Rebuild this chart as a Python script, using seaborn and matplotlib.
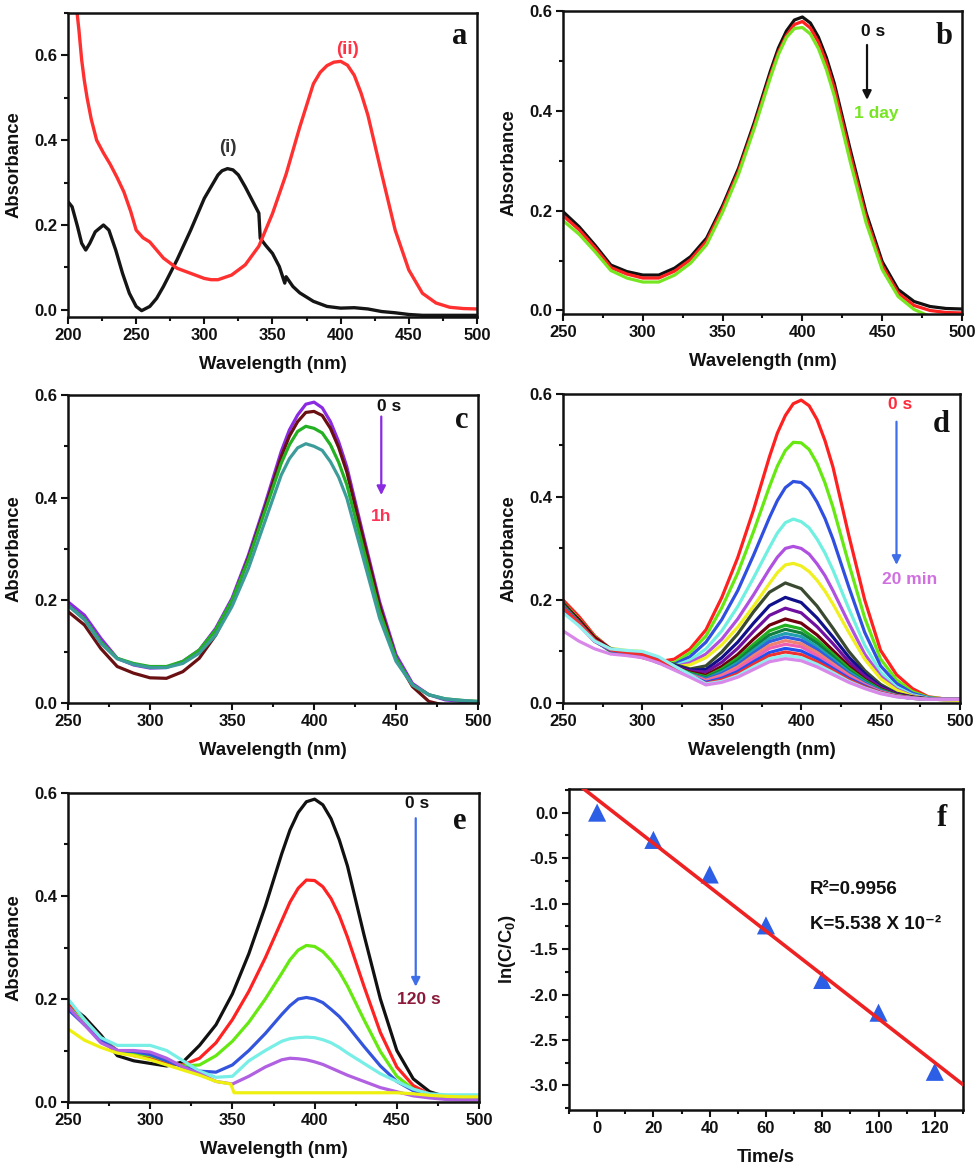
"""Six-panel UV-vis figure: spectra (a-e) and first-order kinetics fit (f)."""

import matplotlib

matplotlib.use("Agg")
import matplotlib.pyplot as plt
import numpy as np
import pandas as pd
import seaborn as sns
from matplotlib.ticker import FormatStrFormatter, MultipleLocator

# ---------------- panel a ----------------
a_wl_i = [200, 203, 207, 210, 213, 216, 220, 226, 230, 235, 240, 245, 250, 254, 260, 265,
          270, 280, 290, 300, 310, 313, 317, 321, 325, 330, 335, 340, 341, 345, 350, 355,
          359, 360, 365, 370, 380, 390, 400, 410, 420, 430, 440, 450, 460, 470, 480, 490, 500]
a_abs_i = [0.255, 0.243, 0.196, 0.157, 0.141, 0.157, 0.184, 0.200, 0.188, 0.141, 0.086, 0.039,
           0.008, -0.002, 0.008, 0.027, 0.055, 0.118, 0.188, 0.263, 0.318, 0.328, 0.333, 0.330,
           0.318, 0.290, 0.259, 0.228, 0.169, 0.152, 0.133, 0.102, 0.063, 0.078, 0.055, 0.040,
           0.020, 0.008, 0.004, 0.005, 0.002, -0.004, -0.007, -0.011, -0.013, -0.013, -0.013,
           -0.013, -0.013]
a_wl_ii = [206, 208, 210, 212, 214, 217, 221, 226, 231, 236, 241, 246, 250, 255, 260, 265,
           270, 280, 290, 300, 305, 310, 320, 330, 340, 350, 360, 370, 380, 385, 390, 395,
           400, 405, 410, 415, 420, 430, 440, 450, 460, 470, 480, 490, 500]
a_abs_ii = [0.72, 0.66, 0.59, 0.54, 0.50, 0.45, 0.40, 0.37, 0.343, 0.312, 0.278, 0.232, 0.188,
            0.170, 0.160, 0.141, 0.122, 0.098, 0.086, 0.074, 0.071, 0.071, 0.082, 0.106, 0.150,
            0.227, 0.320, 0.431, 0.533, 0.560, 0.576, 0.584, 0.586, 0.577, 0.553, 0.511, 0.459,
            0.322, 0.188, 0.094, 0.039, 0.016, 0.006, 0.003, 0.002]
a_colors = ["#151515", "#ff3030"]

# wavelength grids for panels b-e (finer around the 400 nm band)
spec_wl_fine = [250, 260, 270, 280, 290, 300, 310, 320, 330, 340, 350, 360, 370, 380, 385,
                390, 395, 400, 405, 410, 415, 420, 430, 440, 450, 460, 470, 480, 490, 500]
spec_wl = [250, 260, 270, 280, 290, 300, 310, 320, 330, 340, 350, 360, 370,
           380, 390, 400, 410, 420, 430, 440, 450, 460, 470, 480, 490, 500]

# ---------------- panel b (stability, 0 s -> 1 day) ----------------
b_abs = [
    [0.198, 0.168, 0.131, 0.091, 0.078, 0.071, 0.071, 0.085, 0.108, 0.145, 0.210, 0.285, 0.378,
     0.480, 0.526, 0.560, 0.582, 0.588, 0.576, 0.548, 0.507, 0.455,
     0.322, 0.195, 0.098, 0.042, 0.018, 0.008, 0.004, 0.003],
    [0.190, 0.162, 0.126, 0.086, 0.073, 0.065, 0.065, 0.079, 0.102, 0.139, 0.204, 0.279, 0.371,
     0.472, 0.518, 0.551, 0.573, 0.579, 0.566, 0.538, 0.497, 0.445,
     0.312, 0.186, 0.090, 0.035, 0.010, 0.000, -0.004, -0.005],
    [0.180, 0.153, 0.118, 0.080, 0.065, 0.057, 0.057, 0.071, 0.095, 0.132, 0.197, 0.273, 0.366,
     0.467, 0.513, 0.547, 0.565, 0.567, 0.554, 0.525, 0.483, 0.430,
     0.298, 0.175, 0.082, 0.028, 0.002, -0.012, -0.015, -0.015],
]
b_colors = ["#111111", "#ff2020", "#77e622"]

# ---------------- panel c (0 s -> 1 h) ----------------
c_abs = [
    [0.197, 0.171, 0.126, 0.087, 0.074, 0.068, 0.069, 0.081, 0.103, 0.145, 0.204, 0.288, 0.386,
     0.490, 0.532, 0.561, 0.582, 0.586, 0.575, 0.548, 0.509, 0.460,
     0.327, 0.197, 0.094, 0.038, 0.016, 0.006, 0.003, 0.002],
    [0.178, 0.152, 0.106, 0.071, 0.058, 0.049, 0.048, 0.061, 0.087, 0.132, 0.197, 0.282, 0.379,
     0.480, 0.520, 0.548, 0.566, 0.568, 0.560, 0.535, 0.498, 0.450,
     0.320, 0.190, 0.087, 0.032, 0.003, -0.005, -0.005, -0.005],
    [0.190, 0.164, 0.119, 0.087, 0.077, 0.071, 0.071, 0.081, 0.103, 0.142, 0.200, 0.279, 0.373,
     0.467, 0.503, 0.529, 0.539, 0.535, 0.526, 0.503, 0.469, 0.425,
     0.301, 0.178, 0.087, 0.035, 0.016, 0.008, 0.005, 0.003],
    [0.190, 0.162, 0.116, 0.086, 0.075, 0.069, 0.069, 0.077, 0.097, 0.132, 0.188, 0.262, 0.353,
     0.444, 0.476, 0.497, 0.505, 0.500, 0.492, 0.470, 0.440, 0.399,
     0.282, 0.165, 0.081, 0.035, 0.016, 0.008, 0.005, 0.003],
]
c_colors = ["#8a2be2", "#6a0f12", "#23b023", "#3c9c9a"]

# ---------------- panel d (0 s -> 20 min) ----------------
# first six scans on the fine grid
d_abs_top = [
    [0.200, 0.168, 0.130, 0.105, 0.095, 0.088, 0.080, 0.085, 0.105, 0.142, 0.205, 0.282, 0.375,
     0.478, 0.524, 0.558, 0.581, 0.588, 0.577, 0.550, 0.509, 0.458,
     0.325, 0.200, 0.102, 0.055, 0.028, 0.012, 0.008, 0.007],
    [0.195, 0.163, 0.128, 0.104, 0.096, 0.090, 0.079, 0.078, 0.098, 0.130, 0.185, 0.252, 0.333,
     0.420, 0.460, 0.490, 0.506, 0.505, 0.492, 0.465, 0.427, 0.380,
     0.270, 0.165, 0.085, 0.045, 0.022, 0.011, 0.008, 0.007],
    [0.193, 0.161, 0.126, 0.104, 0.097, 0.091, 0.078, 0.075, 0.090, 0.118, 0.162, 0.218, 0.287,
     0.360, 0.393, 0.418, 0.430, 0.428, 0.415, 0.390, 0.358, 0.318,
     0.225, 0.137, 0.072, 0.038, 0.019, 0.010, 0.007, 0.006],
    [0.190, 0.160, 0.125, 0.106, 0.100, 0.095, 0.082, 0.072, 0.083, 0.105, 0.140, 0.187, 0.243,
     0.302, 0.330, 0.350, 0.357, 0.352, 0.340, 0.318, 0.291, 0.258,
     0.183, 0.112, 0.060, 0.031, 0.016, 0.009, 0.006, 0.006],
    [0.190, 0.158, 0.124, 0.105, 0.100, 0.096, 0.083, 0.070, 0.078, 0.095, 0.124, 0.163, 0.210,
     0.260, 0.283, 0.300, 0.304, 0.300, 0.289, 0.270, 0.247, 0.218,
     0.155, 0.095, 0.052, 0.027, 0.014, 0.008, 0.006, 0.005],
    [0.185, 0.155, 0.123, 0.106, 0.102, 0.100, 0.088, 0.070, 0.074, 0.088, 0.113, 0.147, 0.188,
     0.232, 0.253, 0.268, 0.271, 0.266, 0.255, 0.238, 0.217, 0.192,
     0.137, 0.085, 0.047, 0.025, 0.013, 0.008, 0.006, 0.005],
]
# later scans on the 10 nm grid
d_abs_low = [
    [0.195, 0.160, 0.125, 0.105, 0.100, 0.095, 0.085, 0.075, 0.066, 0.072, 0.099, 0.134, 0.177,
     0.215, 0.233, 0.222, 0.188, 0.145, 0.100, 0.063, 0.036, 0.019, 0.012, 0.008, 0.007, 0.007],
    [0.190, 0.158, 0.123, 0.104, 0.098, 0.094, 0.084, 0.073, 0.064, 0.065, 0.088, 0.118, 0.155,
     0.189, 0.205, 0.195, 0.165, 0.128, 0.089, 0.057, 0.032, 0.018, 0.011, 0.008, 0.007, 0.007],
    [0.188, 0.156, 0.122, 0.103, 0.098, 0.093, 0.083, 0.071, 0.062, 0.060, 0.079, 0.106, 0.139,
     0.170, 0.184, 0.175, 0.148, 0.115, 0.080, 0.052, 0.030, 0.017, 0.011, 0.007, 0.007, 0.007],
    [0.192, 0.162, 0.127, 0.105, 0.097, 0.092, 0.082, 0.070, 0.060, 0.054, 0.071, 0.094, 0.124,
     0.151, 0.163, 0.155, 0.132, 0.102, 0.072, 0.046, 0.027, 0.016, 0.011, 0.007, 0.007, 0.007],
    [0.190, 0.157, 0.121, 0.100, 0.094, 0.090, 0.081, 0.069, 0.058, 0.051, 0.066, 0.087, 0.114,
     0.140, 0.151, 0.144, 0.122, 0.095, 0.067, 0.044, 0.026, 0.015, 0.010, 0.007, 0.007, 0.007],
    [0.186, 0.155, 0.121, 0.102, 0.097, 0.093, 0.083, 0.069, 0.057, 0.049, 0.063, 0.082, 0.108,
     0.132, 0.143, 0.136, 0.116, 0.090, 0.063, 0.042, 0.025, 0.015, 0.010, 0.007, 0.007, 0.007],
    [0.185, 0.154, 0.120, 0.103, 0.099, 0.095, 0.084, 0.068, 0.056, 0.047, 0.060, 0.078, 0.102,
     0.125, 0.135, 0.129, 0.109, 0.085, 0.060, 0.040, 0.024, 0.014, 0.010, 0.007, 0.007, 0.007],
    [0.188, 0.156, 0.121, 0.102, 0.097, 0.093, 0.082, 0.067, 0.055, 0.046, 0.057, 0.074, 0.097,
     0.119, 0.128, 0.122, 0.104, 0.081, 0.057, 0.038, 0.023, 0.014, 0.010, 0.007, 0.007, 0.007],
    [0.183, 0.153, 0.120, 0.103, 0.099, 0.096, 0.085, 0.068, 0.055, 0.044, 0.054, 0.070, 0.092,
     0.112, 0.121, 0.115, 0.098, 0.076, 0.054, 0.036, 0.022, 0.014, 0.010, 0.007, 0.007, 0.007],
    [0.180, 0.151, 0.119, 0.103, 0.100, 0.097, 0.086, 0.069, 0.054, 0.042, 0.051, 0.066, 0.086,
     0.106, 0.114, 0.109, 0.092, 0.072, 0.051, 0.035, 0.021, 0.013, 0.009, 0.007, 0.007, 0.007],
    [0.182, 0.152, 0.120, 0.102, 0.098, 0.095, 0.084, 0.067, 0.053, 0.040, 0.048, 0.061, 0.080,
     0.098, 0.106, 0.101, 0.086, 0.067, 0.048, 0.033, 0.020, 0.013, 0.009, 0.007, 0.007, 0.007],
    [0.185, 0.155, 0.122, 0.103, 0.098, 0.094, 0.083, 0.066, 0.052, 0.038, 0.045, 0.057, 0.075,
     0.092, 0.099, 0.094, 0.080, 0.063, 0.045, 0.031, 0.020, 0.013, 0.009, 0.007, 0.007, 0.007],
    [0.175, 0.150, 0.120, 0.105, 0.102, 0.100, 0.090, 0.072, 0.055, 0.037, 0.042, 0.053, 0.070,
     0.086, 0.092, 0.088, 0.075, 0.059, 0.042, 0.029, 0.019, 0.012, 0.009, 0.007, 0.007, 0.007],
    [0.140, 0.120, 0.105, 0.095, 0.092, 0.088, 0.078, 0.064, 0.050, 0.035, 0.040, 0.050, 0.065,
     0.080, 0.086, 0.082, 0.070, 0.055, 0.040, 0.028, 0.018, 0.012, 0.009, 0.007, 0.007, 0.007],
]
d_colors = ["#ff2020", "#66e811", "#2f4fe0", "#6ff0e0", "#b050e0", "#f0f020", "#3a4a30",
            "#10108a", "#7010a0", "#700010", "#20b020", "#108040", "#20a0b0", "#3060e0",
            "#f08070", "#f060b0", "#2050f0", "#f03030", "#90f0f0", "#d888e8"]

# ---------------- panel e (0 s -> 120 s) ----------------
e_abs = [
    [0.190, 0.165, 0.130, 0.090, 0.080, 0.075, 0.070, 0.078, 0.110, 0.150, 0.210, 0.288, 0.380,
     0.482, 0.528, 0.562, 0.583, 0.588, 0.577, 0.550, 0.509, 0.458,
     0.325, 0.200, 0.100, 0.045, 0.020, 0.010, 0.008, 0.008],
    [0.190, 0.160, 0.125, 0.100, 0.090, 0.085, 0.075, 0.072, 0.085, 0.115, 0.160, 0.215, 0.280,
     0.352, 0.388, 0.415, 0.431, 0.430, 0.418, 0.395, 0.362, 0.320,
     0.225, 0.135, 0.068, 0.032, 0.015, 0.010, 0.008, 0.007],
    [0.185, 0.155, 0.120, 0.100, 0.095, 0.090, 0.080, 0.070, 0.072, 0.090, 0.118, 0.155, 0.200,
     0.250, 0.276, 0.295, 0.304, 0.302, 0.292, 0.275, 0.253, 0.225,
     0.160, 0.098, 0.050, 0.025, 0.013, 0.010, 0.008, 0.007],
    [0.180, 0.150, 0.120, 0.100, 0.098, 0.092, 0.080, 0.068, 0.060, 0.058, 0.072, 0.100, 0.133,
     0.170, 0.187, 0.200, 0.203, 0.200, 0.193, 0.180, 0.166, 0.148,
     0.108, 0.070, 0.040, 0.022, 0.013, 0.010, 0.008, 0.007],
    [0.200, 0.160, 0.125, 0.110, 0.110, 0.110, 0.100, 0.080, 0.060, 0.048, 0.050, 0.080, 0.100,
     0.118, 0.123, 0.125, 0.126, 0.125, 0.121, 0.115, 0.106, 0.095,
     0.075, 0.055, 0.040, 0.025, 0.016, 0.014, 0.014, 0.014],
    [0.185, 0.150, 0.115, 0.100, 0.100, 0.097, 0.085, 0.068, 0.055, 0.040, 0.035, 0.050, 0.068,
     0.082, 0.085, 0.084, 0.082, 0.078, 0.073, 0.066, 0.059, 0.052,
     0.040, 0.028, 0.020, 0.012, 0.008, 0.005, 0.004, 0.004],
]
e_wl_120s = [250, 260, 270, 280, 290, 300, 310, 320, 330, 340, 349, 351, 360, 400, 450, 460,
             470, 480, 490, 500]
e_abs_120s = [0.142, 0.120, 0.106, 0.095, 0.090, 0.082, 0.072, 0.062, 0.052, 0.040, 0.035,
              0.018, 0.018, 0.018, 0.018, 0.016, 0.013, 0.011, 0.010, 0.010]
e_colors = ["#111111", "#ff2222", "#66e811", "#3355dd", "#77eee6", "#b060e0", "#eef010"]

# ---------------- panel f (kinetics) ----------------
f_time = [0, 20, 40, 60, 80, 100, 120]
f_lnc = [0.0, -0.30, -0.68, -1.24, -1.84, -2.20, -2.85]
f_fit_range = [-5.3, 130]


def spectra_frame(curves):
    """Stack (wavelength, absorbance) pairs into one long frame for seaborn."""
    parts = []
    for idx, (wl, vals) in enumerate(curves):
        parts.append(pd.DataFrame({"wl": wl, "abs": vals, "curve": f"s{idx:02d}"}))
    return pd.concat(parts, ignore_index=True)


def draw_spectra(ax, curves, colors, lw=2.3):
    frame = spectra_frame(curves)
    palette = {f"s{i:02d}": c for i, c in enumerate(colors)}
    sns.lineplot(data=frame, x="wl", y="abs", hue="curve", palette=palette,
                 estimator=None, sort=False, lw=lw, legend=False, ax=ax)


def style_axis(ax, xlim, ylim, xmajor, xminor, ymajor, yminor, yfmt, xlabel, ylabel):
    ax.set_xlim(xlim)
    ax.set_ylim(ylim)
    ax.xaxis.set_major_locator(MultipleLocator(xmajor))
    ax.xaxis.set_minor_locator(MultipleLocator(xminor))
    ax.yaxis.set_major_locator(MultipleLocator(ymajor))
    ax.yaxis.set_minor_locator(MultipleLocator(yminor))
    ax.yaxis.set_major_formatter(FormatStrFormatter(yfmt))
    for spine in ax.spines.values():
        spine.set_visible(True)
        spine.set_linewidth(1.8)
        spine.set_color("#111111")
    ax.tick_params(which="both", direction="out", top=False, right=False, width=1.5,
                   color="#111111")
    ax.tick_params(which="major", length=5, pad=3)
    ax.tick_params(which="minor", length=3)
    ax.set_xlabel(xlabel, labelpad=9)
    ax.set_ylabel(ylabel, labelpad=8)


def panel_letter(ax, x, y, letter):
    ax.text(x, y, letter, ha="center", va="center", fontsize=22, fontweight="bold",
            family=["Liberation Serif", "DejaVu Serif"], color="#111111")


def time_arrow(ax, x, y_start, y_end, color):
    ax.annotate("", xy=(x, y_end), xytext=(x, y_start),
                arrowprops=dict(arrowstyle="-|>", color=color, lw=1.6, mutation_scale=13,
                                shrinkA=0, shrinkB=0))


def note(ax, x, y, text, color, size=12.5):
    ax.text(x, y, text, ha="center", va="center", fontsize=size, fontweight="bold", color=color)


sns.set_theme(style="ticks")
plt.rcParams.update({
    "font.family": ["Liberation Sans", "DejaVu Sans"],
    "font.weight": "bold",
    "axes.labelweight": "bold",
    "axes.labelsize": 13.3,
    "xtick.labelsize": 12,
    "ytick.labelsize": 12,
    "axes.unicode_minus": False,
    "mathtext.fontset": "custom",
    "mathtext.rm": "Liberation Sans:bold",
    "mathtext.bf": "Liberation Sans:bold",
    "axes.edgecolor": "#111111",
    "text.color": "#111111",
    "axes.labelcolor": "#111111",
    "xtick.color": "#111111",
    "ytick.color": "#111111",
})

fig = plt.figure(figsize=(9.8, 11.72), dpi=100)
ax_a = fig.add_axes([0.0694, 0.7295, 0.4173, 0.2594])
ax_b = fig.add_axes([0.5745, 0.7321, 0.4071, 0.2585])
ax_c = fig.add_axes([0.0694, 0.4002, 0.4184, 0.2628])
ax_d = fig.add_axes([0.5745, 0.4002, 0.4051, 0.2637])
ax_e = fig.add_axes([0.0694, 0.0597, 0.4194, 0.2637])
ax_f = fig.add_axes([0.5806, 0.0529, 0.4020, 0.2739])

wl_label = "Wavelength (nm)"

# a
draw_spectra(ax_a, [(a_wl_i, a_abs_i), (a_wl_ii, a_abs_ii)], a_colors, lw=2.4)
style_axis(ax_a, (200, 500), (-0.017, 0.70), 50, 25, 0.2, 0.1, "%.1f", wl_label, "Absorbance")
note(ax_a, 317, 0.382, "(i)", "#333333", size=13.5)
note(ax_a, 405, 0.614, "(ii)", "#ff3344", size=13.5)
panel_letter(ax_a, 487.5, 0.645, "a")

# b
draw_spectra(ax_b, [(spec_wl_fine, v) for v in b_abs], b_colors)
style_axis(ax_b, (250, 500), (-0.007, 0.60), 50, 25, 0.2, 0.1, "%.1f", wl_label, "Absorbance")
note(ax_b, 444.5, 0.558, "0 s", "#111111")
time_arrow(ax_b, 440.5, 0.532, 0.422, "#111111")
note(ax_b, 446.5, 0.395, "1 day", "#77e622")
panel_letter(ax_b, 489, 0.548, "b")

# c
draw_spectra(ax_c, [(spec_wl_fine, v) for v in c_abs], c_colors)
style_axis(ax_c, (250, 500), (0.0, 0.60), 50, 25, 0.2, 0.1, "%.1f", wl_label, "Absorbance")
note(ax_c, 446, 0.577, "0 s", "#111111")
time_arrow(ax_c, 441, 0.558, 0.405, "#8a2be2")
note(ax_c, 441, 0.363, "1h", "#ff3355")
panel_letter(ax_c, 490, 0.551, "c")

# d
d_curves = [(spec_wl_fine, v) for v in d_abs_top] + [(spec_wl, v) for v in d_abs_low]
draw_spectra(ax_d, d_curves, d_colors)
style_axis(ax_d, (250, 500), (0.0, 0.60), 50, 25, 0.2, 0.1, "%.1f", wl_label, "Absorbance")
note(ax_d, 462.5, 0.579, "0 s", "#ff2a3a")
time_arrow(ax_d, 460, 0.546, 0.268, "#3f6fe8")
note(ax_d, 468.5, 0.240, "20 min", "#d070e0")
panel_letter(ax_d, 488.5, 0.540, "d")

# e
e_curves = [(spec_wl_fine, v) for v in e_abs] + [(e_wl_120s, e_abs_120s)]
draw_spectra(ax_e, e_curves, e_colors)
style_axis(ax_e, (250, 500), (0.0, 0.60), 50, 25, 0.2, 0.1, "%.1f", wl_label, "Absorbance")
note(ax_e, 462.5, 0.580, "0 s", "#111111")
time_arrow(ax_e, 461.5, 0.551, 0.224, "#3f6fe8")
note(ax_e, 463.5, 0.200, "120 s", "#8b1a3a")
panel_letter(ax_e, 488, 0.544, "e")

# f
slope, intercept = np.polyfit(f_time, f_lnc, 1)
fit_x = np.array(f_fit_range)
sns.scatterplot(x=f_time, y=f_lnc, marker="^", s=170, color="#2d5ee6", edgecolor="none",
                zorder=2, ax=ax_f)
sns.lineplot(x=fit_x, y=slope * fit_x + intercept, color="#ee2222", lw=2.6, zorder=3, ax=ax_f)
style_axis(ax_f, (-10, 130), (-3.27, 0.26), 20, 10, 0.5, 0.25, "%.1f", "Time/s",
           r"ln(C/C$_\mathbf{0}$)")
ax_f.text(75.6, -0.84, "R²=0.9956", ha="left", va="center", fontsize=13.5, fontweight="bold")
ax_f.text(75.6, -1.23, "K=5.538 X 10⁻²", ha="left", va="center", fontsize=13.5,
          fontweight="bold")
panel_letter(ax_f, 122.4, -0.06, "f")

fig.savefig("out.png", dpi=100)
plt.close(fig)
